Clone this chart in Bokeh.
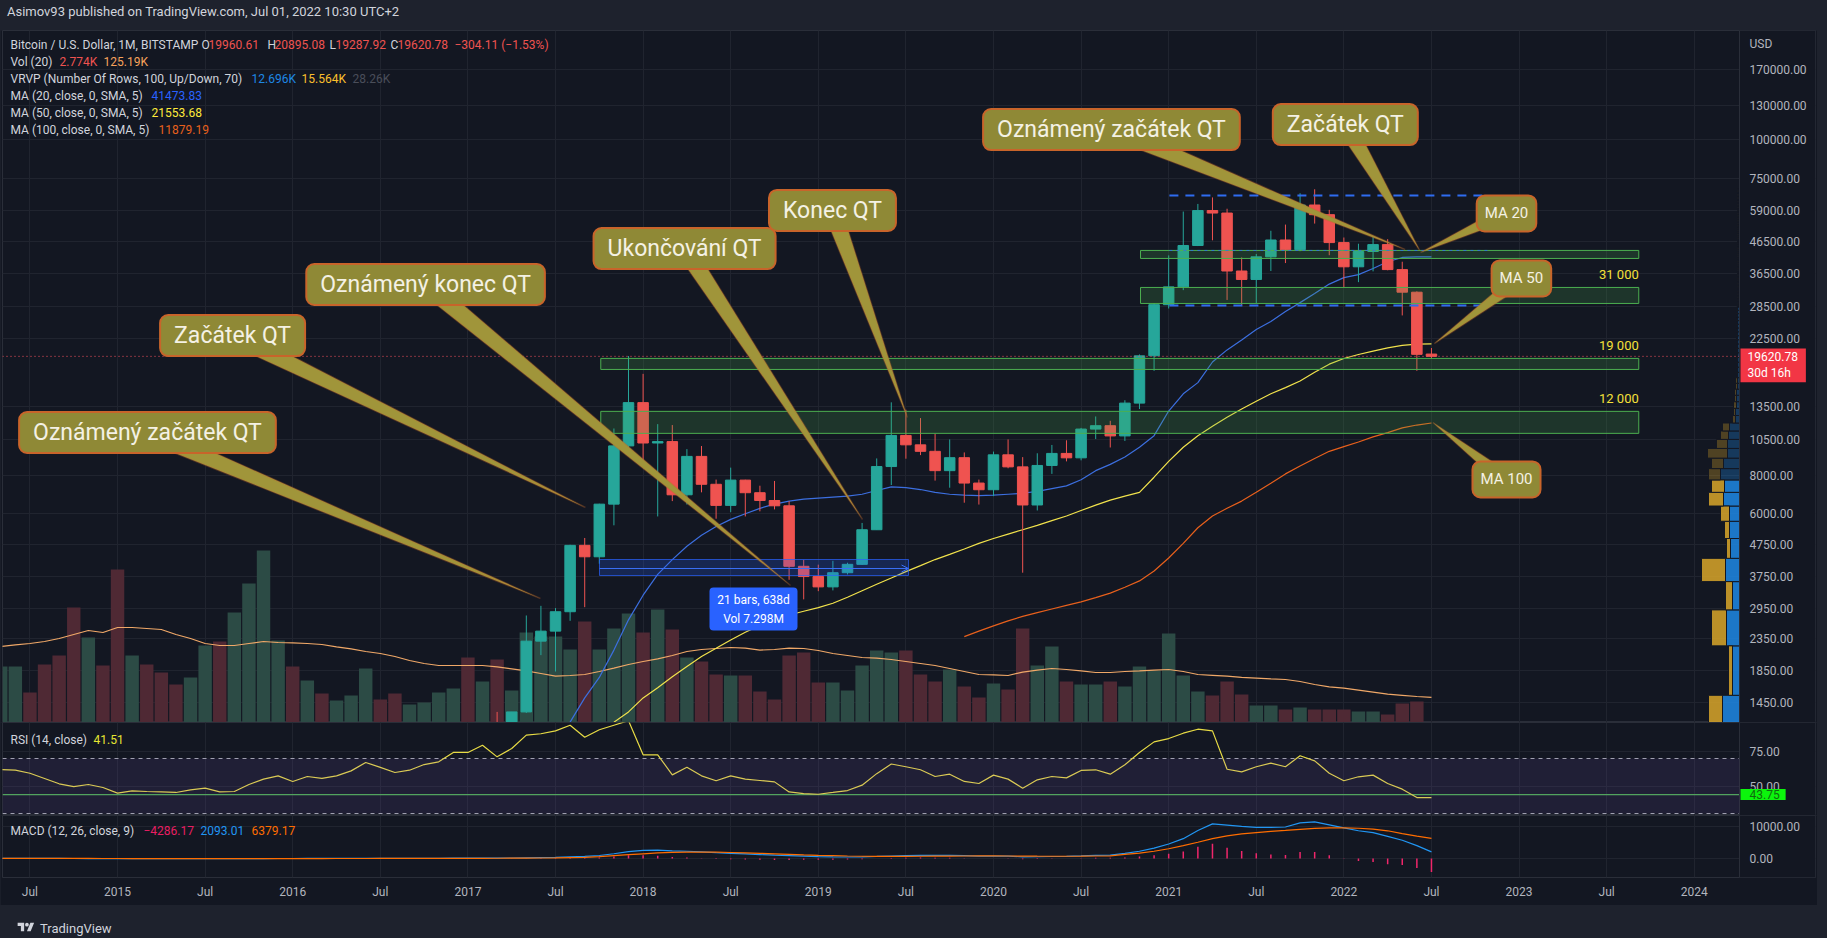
import math
from bokeh.plotting import figure
from bokeh.layouts import column
from bokeh.models import (Range1d, LinearScale, FixedTicker, NumeralTickFormatter, Grid,
                          Label, PolyAnnotation, BoxAnnotation, Span, Arrow, OpenHead, Div)
from bokeh.embed import file_html
from bokeh.resources import INLINE

# ======================= DATA =======================
first_bar = (2014, 5)   # BITSTAMP BTCUSD, 1M bars, May 2014 .. Jul 2022

opens = [445, 630, 640, 585, 480, 387, 338, 378,
         320, 217, 254, 244, 236, 230, 263, 284, 230, 236, 314, 377,
         430, 368, 437, 416, 448, 531, 673, 624, 575, 609, 700, 742,
         966, 963, 1190, 1080, 1350, 2300, 2480, 2870, 4730, 4340, 6450, 10000,
         13850, 10220, 10330, 6920, 9240, 7490, 6390, 7730, 7030, 6630, 6370, 4040,
         3740, 3460, 3850, 4100, 5320, 8560, 10820, 10080, 9600, 8300, 9150, 7560,
         7190, 9350, 8540, 6410, 8630, 9450, 9140, 11350, 11640, 10780, 13800, 19700,
         28950, 33100, 45200, 58800, 57700, 37300, 35000, 41500, 47100, 43800, 61300, 57000,
         46200, 38500, 43200, 45500, 37700, 31800, 19960.61]
highs = [630, 680, 660, 600, 500, 415, 460, 385,
         320, 265, 300, 262, 248, 268, 318, 284, 243, 331, 500, 467,
         462, 448, 440, 467, 549, 780, 703, 627, 630, 720, 755, 980,
         1150, 1200, 1350, 1350, 2790, 3000, 2950, 4750, 5000, 6470, 11400, 19666,
         17200, 11780, 11700, 9760, 9990, 7760, 8490, 7750, 7410, 7680, 6600, 4240,
         4090, 4210, 4150, 5600, 9100, 13880, 13130, 12330, 10950, 10500, 9520, 7760,
         9580, 10500, 9190, 9460, 10070, 10430, 11450, 12480, 12080, 14100, 19900, 29300,
         41950, 58350, 61800, 64900, 59600, 41300, 42400, 50500, 52900, 67000, 69000, 59100,
         48000, 45800, 48200, 47400, 40000, 32000, 20895.08]
lows = [440, 560, 570, 440, 370, 275, 312, 300,
        152, 212, 235, 214, 225, 218, 253, 198, 225, 235, 300, 350,
        350, 364, 394, 414, 443, 525, 608, 470, 590, 605, 675, 742,
        750, 915, 890, 1060, 1340, 2070, 1830, 2680, 2970, 4120, 5500, 9700,
        9000, 5880, 6600, 6430, 7050, 5780, 6070, 5880, 6110, 6200, 3650, 3150,
        3350, 3370, 3800, 4080, 5320, 7450, 9080, 9330, 7700, 7300, 6520, 6430,
        6850, 8450, 3850, 6150, 8100, 8900, 8970, 10530, 9880, 10380, 13200, 17600,
        28130, 32300, 45000, 47000, 30000, 28800, 29300, 37300, 39600, 43300, 53300, 42000,
        32900, 34300, 37200, 37500, 26700, 17600, 19287.92]
closes = [630, 640, 585, 480, 387, 338, 378, 320,
          217, 254, 244, 236, 230, 263, 284, 230, 236, 314, 377, 430,
          368, 437, 416, 448, 531, 673, 624, 575, 609, 700, 742, 963,
          963, 1190, 1080, 1350, 2300, 2480, 2870, 4730, 4340, 6450, 10000, 13850,
          10220, 10330, 6920, 9240, 7490, 6390, 7730, 7030, 6630, 6370, 4040, 3740,
          3460, 3850, 4100, 5320, 8560, 10820, 10080, 9600, 8300, 9150, 7560, 7190,
          9350, 8540, 6410, 8630, 9450, 9140, 11350, 11640, 10780, 13800, 19700, 28950,
          33100, 45200, 58800, 57700, 37300, 35000, 41500, 47100, 43800, 61300, 57000, 46200,
          38500, 43200, 45500, 37700, 31800, 19920, 19620.78]
volume_k = [280, 280, 150, 290, 335, 575, 425, 285,
            765, 335, 290, 250, 190, 225, 385, 405, 550, 695, 860, 410,
            280, 210, 145, 110, 135, 270, 115, 145, 90, 100, 150, 170,
            325, 205, 315, 160, 450, 430, 430, 365, 505, 365, 470, 545,
            450, 565, 465, 325, 305, 240, 235, 235, 155, 115, 335, 350,
            200, 200, 160, 285, 360, 350, 360, 240, 205, 265, 180, 125,
            195, 165, 470, 285, 380, 205, 190, 190, 205, 180, 280, 260,
            445, 235, 155, 135, 205, 140, 85, 85, 65, 75, 65, 65,
            65, 55, 55, 40, 95, 105, 2.774]
volume_ma_k = [380, 388, 395, 405, 420, 440, 460, 450,
               475, 475, 470, 465, 440, 420, 395, 385, 385, 395, 405, 400,
               398, 395, 390, 378, 368, 355, 345, 330, 310, 295, 285, 285,
               285, 285, 278, 268, 258, 245, 232, 235, 240, 255, 272, 290,
               305, 318, 335, 355, 365, 370, 375, 372, 362, 365, 372, 370,
               360, 345, 335, 325, 322, 315, 305, 295, 285, 270, 255, 240,
               238, 235, 252, 262, 270, 265, 258, 250, 250, 255, 258, 262,
               265, 255, 240, 236, 232, 226, 222, 218, 215, 205, 190, 178,
               172, 162, 152, 142, 136, 130, 125.19]

ma20_first = (2017, 8)
ma20 = [1250, 1500, 1750, 2150, 2700,
        3250, 3800, 4250, 4700, 5100, 5450, 5750, 6000, 6250, 6450, 6600, 6700,
        6750, 6800, 6850, 6950, 7150, 7350, 7300, 7200, 7050, 6950, 6900, 6880,
        6900, 6950, 7000, 7100, 7250, 7400, 7750, 8300, 8700, 9200, 9900, 10800,
        13000, 14800, 16100, 18800, 20600, 22200, 24000, 25500, 27500, 29400, 31500, 33800,
        35500, 36300, 38000, 40000, 41300, 41500, 41473.83]
ma50_first = (2017, 11)
ma50 = [1250, 1350,
        1500, 1620, 1760, 1900, 2050, 2180, 2320, 2460, 2590, 2700, 2800, 2880,
        2960, 3060, 3200, 3360, 3530, 3700, 3880, 4060, 4250, 4420, 4600, 4800,
        4980, 5150, 5320, 5500, 5700, 5900, 6150, 6400, 6650, 6850, 7050, 7900,
        8900, 9900, 10800, 11600, 12400, 13200, 14000, 14800, 15500, 16300, 17400, 18500,
        19300, 19900, 20400, 20900, 21300, 21500, 21553.68]
ma100_first = (2019, 11)
ma100 = [2380, 2480,
         2580, 2680, 2770, 2850, 2930, 3010, 3090, 3190, 3300, 3450, 3620, 3900,
         4300, 4800, 5400, 5900, 6250, 6600, 7050, 7550, 8100, 8600, 9100, 9600,
         9950, 10300, 10700, 11050, 11450, 11700, 11879.19]

rsi = [62.0, 61.5, 59.3, 55.5, 51.6, 49.6, 51.1, 48.9,
       44.8, 46.5, 46.0, 45.7, 45.3, 47.2, 48.4, 45.7, 46.0, 51.1, 55.0, 57.4,
       53.3, 56.9, 55.5, 57.4, 61.0, 67.1, 63.5, 59.8, 61.5, 65.6, 67.6, 74.4,
       74.4, 79.7, 71.2, 77.3, 87.0, 88.0, 90.1, 94.2, 85.5, 90.9, 94.2, 97.5,
       72.7, 72.7, 58.1, 63.7, 57.4, 53.8, 57.4, 55.0, 54.0, 53.0, 45.7, 44.5,
       44.0, 45.3, 46.7, 50.6, 59.0, 66.0, 64.0, 61.8, 56.9, 58.6, 53.3, 51.8,
       57.9, 55.0, 48.4, 54.5, 56.9, 55.9, 61.3, 61.8, 58.6, 65.4, 74.4, 82.1,
       84.5, 88.4, 91.3, 90.1, 62.2, 60.3, 64.0, 66.6, 64.0, 72.0, 68.3, 59.3,
       53.8, 56.7, 57.9, 51.8, 47.7, 41.6, 41.51]
macd = [30, 40, 40, 30, 15, -5, -15, -25,
        -45, -50, -52, -52, -50, -45, -40, -38, -36, -28, -15, -2,
        5, 12, 15, 20, 28, 45, 55, 58, 62, 70, 80, 100,
        115, 130, 140, 160, 230, 300, 380, 560, 680, 950, 1500, 2200,
        2550, 2650, 2450, 2300, 2100, 1850, 1650, 1450, 1250, 1050, 900, 750,
        600, 500, 480, 520, 650, 800, 900, 1000, 980, 980, 890, 780,
        800, 760, 520, 560, 640, 700, 820, 1000, 1100, 1600, 2300, 3300,
        4600, 6300, 8900, 11000, 10600, 10200, 9900, 9900, 10000, 11300, 11600, 10700,
        9700, 8800, 8200, 7000, 5800, 4100, 2093.01]
macd_signal = [35, 36, 37, 36, 32, 25, 17, 8,
               -5, -15, -23, -30, -35, -38, -40, -40, -40, -38, -34, -28,
               -20, -15, -10, -6, 0, 5, 10, 15, 20, 25, 32, 40,
               50, 65, 80, 95, 125, 165, 210, 280, 360, 600, 900, 1200,
               1500, 1800, 1950, 2020, 2040, 2000, 1900, 1800, 1650, 1500, 1340, 1150,
               1000, 900, 800, 720, 680, 670, 690, 720, 750, 780, 800, 810,
               810, 800, 760, 730, 720, 720, 740, 790, 860, 1300, 1700, 2300,
               3100, 4100, 5150, 6300, 7200, 7800, 8200, 8600, 8900, 9250, 9550, 9700,
               9750, 9600, 9300, 8800, 7900, 7100, 6379.17]
macd_hist = [-5, 4, 3, -6, -17, -30, -32, -33,
             -40, -35, -29, -22, -15, -7, 0, 2, 4, 10, 19, 26,
             25, 27, 25, 26, 28, 40, 45, 43, 42, 45, 48, 60,
             65, 65, 60, 65, 105, 135, 170, 280, 320, 350, 600, 1000,
             1050, 850, 500, 280, 60, -150, -250, -350, -400, -450, -440, -400,
             -400, -400, -320, -200, -30, 130, 210, 280, 230, 200, 90, -30,
             -10, -40, -240, -170, -80, -20, 80, 210, 240, 300, 600, 1000,
             1500, 2200, 3750, 4700, 3400, 2400, 1700, 1300, 1100, 2050, 2050, 1000,
             -50, -800, -1100, -1800, -2100, -3000, -4286.17]

# volume profile (VRVP), 100 rows
vp_first_price = 150
vp_row_size = 690
vp_up = [10, 17, 7, 13, 7, 14, 9, 10, 10, 16, 15, 19, 16, 12, 12, 11, 10,
         4, 4, 3, 3, 3, 2, 2,
         2, 2, 2, 2, 2, 2, 2, 2, 2, 2, 2, 2, 2, 2, 2, 2, 2,
         1, 1, 1, 1, 1, 1, 1, 1, 1, 1, 1, 1, 1, 1, 1, 1, 1, 1, 1, 1,
         1, 1, 1, 1, 1, 1, 1, 1, 1, 1, 1, 1, 1, 1, 1, 1, 1, 1, 1, 1,
         1, 1, 1, 1, 1, 1, 1, 1, 1, 1, 1, 1, 1, 1, 1, 1, 1, 1, 1]
vp_down = [8, 14, 4, 15, 7, 24, 4, 5, 9, 15, 13, 12, 12, 20, 11, 8, 7,
           3, 2, 3, 2, 2, 2, 2,
           1, 1, 1, 1, 1, 1, 1, 1, 1, 1, 1, 1, 1, 1, 1, 1, 1,
           1, 1, 1, 1, 1, 1, 1, 1, 1, 1, 1, 1, 1, 1, 1, 1, 1, 1, 1, 1,
           1, 1, 1, 1, 1, 1, 1, 1, 1, 1, 1, 1, 1, 1, 1, 1, 1, 1, 1, 1,
           1, 1, 1, 1, 1, 1, 1, 1, 1, 1, 1, 1, 1, 1, 1, 1, 1, 1, 1]
vp_value_area_rows = (1, 10)

tick_labels = ["Jul", "2015", "Jul", "2016", "Jul", "2017", "Jul", "2018", "Jul", "2019",
               "Jul", "2020", "Jul", "2021", "Jul", "2022", "Jul", "2023", "Jul", "2024"]
tick_dates = [(2014, 7), (2015, 1), (2015, 7), (2016, 1), (2016, 7), (2017, 1), (2017, 7),
              (2018, 1), (2018, 7), (2019, 1), (2019, 7), (2020, 1), (2020, 7), (2021, 1),
              (2021, 7), (2022, 1), (2022, 7), (2023, 1), (2023, 7), (2024, 1)]
price_ticks = [1450, 1850, 2350, 2950, 3750, 4750, 6000, 8000, 10500, 13500,
               22500, 28500, 36500, 46500, 59000, 75000, 100000, 130000, 170000]
rsi_ticks = [50, 75]
macd_ticks = [0, 10000]

# drawings on the chart
zone_bottom = [41000, 29220, 17780, 10990]
zone_top = [43550, 32960, 19320, 12970]
zone_left = [70.07, 70.07, 33.1, 33.1]
zone_right = [104.2, 104.2, 104.2, 104.2]
zone_text = ["", "31 000", "19 000", "12 000"]
dash_levels = [65860, 43550, 28770]
dash_from, dash_to = 72.05, 93.84

callouts = [  # text, box centre (month, price), tip (month, price), font px
    ("Oznámený začátek QT", (2.05, 11060), (28.97, 3171), 23),
    ("Začátek QT", (7.88, 22950), (32.05, 6289), 23),
    ("Oznámený konec QT", (21.1, 33700), (46.1, 3496), 23),
    ("Ukončování QT", (38.84, 44180), (51.03, 5746), 23),
    ("Konec QT", (48.97, 58830), (54.1, 12380), 23),
    ("Oznámený začátek QT", (68.08, 108200), (88.2, 43850), 23),
    ("Začátek QT", (84.1, 112300), (89.2, 43530), 23),
    ("MA 20", (95.14, 57520), (89.25, 42880), 15),
    ("MA 50", (96.16, 35260), (90.2, 21610), 15),
    ("MA 100", (95.14, 7766), (90.1, 11925), 15),
]

# ======================= LAYOUT / STYLE =======================
OUTER = "#1e222d"
BG = "#131722"
SEP = "#2a2e39"
GRID = "#20242f"
TXT = "#d1d4dc"
AX_TXT = "#b2b5be"
UP, DOWN = "#26a69a", "#ef5350"
VOL_UP, VOL_DOWN = "#2c4b45", "#4f2934"
FONT = "Roboto"
LEG = "12px"

W = 1817
PANE_W = 1737            # plotting area left of the price scale
FRAME_W = 1813           # frame incl. the price-scale strip
FRAME_LEFT = 10          # page x of the frame's left edge
MAIN_TOP, MAIN_H = 28, 692
RSI_TOP, RSI_H = 720, 93
MACD_TOP, MACD_H = 813, 62
XAXIS_H = 28
HEADER_H, FOOTER_H = 20, 27

X0, X_SEP = -7.88, 111.1
PPM = PANE_W / (X_SEP - X0)
X1 = X0 + FRAME_W / PPM
Y0, Y1 = 1246.7, 228000
VOL_TOP = 3460
R0, R1 = 28.55, 96.18
M0, M1 = -6030, 13650

LY0, LY1 = math.log10(Y0), math.log10(Y1)
PPD = MAIN_H / (LY1 - LY0)


def midx(ym):
    return (ym[0] - 2015) * 12 + (ym[1] - 1)


def px_to_x(px):
    return X0 + (px - FRAME_LEFT) / PPM


def x_to_px(x):
    return FRAME_LEFT + (x - X0) * PPM


def py_to_price(py):
    return 10 ** (LY1 - (py - MAIN_TOP) / PPD)


def price_to_py(p):
    return MAIN_TOP + (LY1 - math.log10(p)) * PPD


def py_to_rsi(py):
    return R1 - (py - RSI_TOP) * (R1 - R0) / RSI_H


def py_to_macd(py):
    return M1 - (py - MACD_TOP) * (M1 - M0) / MACD_H


n = len(closes)
for arr in (opens, highs, lows, volume_k, volume_ma_k, rsi, macd, macd_signal, macd_hist):
    assert len(arr) == n
x = [midx(first_bar) + i for i in range(n)]
up = [c >= o for o, c in zip(opens, closes)]
tick_pos = [midx(d) for d in tick_dates]


def style_axis(ax):
    ax.axis_line_color = None
    ax.major_tick_line_color = None
    ax.minor_tick_line_color = None
    ax.major_tick_out = 0
    ax.major_tick_in = 0
    ax.major_label_text_color = AX_TXT
    ax.major_label_text_font = FONT
    ax.major_label_text_font_size = "12px"


xr = Range1d(X0, X1)


def base_fig(y_range, frame_h, yticks, log=False, bottom=0):
    kw = dict(x_range=xr, y_range=y_range, frame_width=FRAME_W, frame_height=frame_h,
              y_axis_location="right", x_axis_location=("below" if bottom else None),
              min_border_left=2, min_border_right=2, min_border_top=0,
              min_border_bottom=bottom, output_backend="svg", toolbar_location=None,
              background_fill_color=BG, border_fill_color=BG, outline_line_color=SEP)
    if log:
        kw["y_axis_type"] = "log"
    f = figure(**kw)
    # vertical grid lines at the time ticks
    if len(f.xgrid):
        for g in f.xgrid:
            g.ticker = FixedTicker(ticks=tick_pos)
            g.grid_line_color = GRID
    else:
        f.add_layout(Grid(dimension=0, ticker=FixedTicker(ticks=tick_pos), grid_line_color=GRID))
    for g in f.ygrid:
        g.ticker = FixedTicker(ticks=yticks)
        g.grid_line_color = GRID
    ax = f.yaxis[0]
    style_axis(ax)
    ax.ticker = FixedTicker(ticks=yticks)
    ax.formatter = NumeralTickFormatter(format="0.00")
    ax.major_label_standoff = 10
    ax.fixed_location = X_SEP
    # price-scale strip: hide grid, draw separator
    f.add_layout(BoxAnnotation(left=X_SEP, fill_color=BG, fill_alpha=1, line_alpha=0, level="underlay"))
    f.add_layout(Span(location=X_SEP, dimension="height", line_color=SEP, line_width=1))
    return f


def text(fig, px, py, s, color, size=LEG, yconv=py_to_price, align="left", style="normal"):
    fig.add_layout(Label(x=px_to_x(px), y=yconv(py), text=s, text_color=color, text_font=FONT,
                         text_font_size=size, text_align=align, text_baseline="middle",
                         text_font_style=style))


# ======================= MAIN PANE =======================
main = base_fig(Range1d(Y0, Y1), MAIN_H, price_ticks, log=True)
main.extra_y_ranges = {"vol": Range1d(0, VOL_TOP)}
main.extra_y_scales = {"vol": LinearScale()}
main.extra_x_ranges = {"vp": Range1d(-PANE_W, FRAME_W - PANE_W)}
main.extra_x_scales = {"vp": LinearScale()}

# volume
main.vbar(x=x, width=0.92, top=volume_k, bottom=0, y_range_name="vol",
          fill_color=[VOL_UP if u else VOL_DOWN for u in up], line_color=None)
main.line(x=x, y=volume_ma_k, y_range_name="vol", line_color="#f0a868", line_width=1.2)

# volume profile
vp_bottom = [vp_first_price + vp_row_size * k for k in range(len(vp_up))]
vp_top = [b + vp_row_size for b in vp_bottom]
lo, hi = vp_value_area_rows
in_va = [lo <= k <= hi for k in range(len(vp_up))]
main.quad(left=[-u for u in vp_up], right=[0] * len(vp_up), bottom=vp_bottom, top=vp_top,
          x_range_name="vp", fill_color="#1e88e5", fill_alpha=[0.85 if v else 0.3 for v in in_va],
          line_color=BG, line_width=1)
main.quad(left=[-(u + d) for u, d in zip(vp_up, vp_down)], right=[-u for u in vp_up],
          bottom=vp_bottom, top=vp_top, x_range_name="vp", fill_color="#d9a629",
          fill_alpha=[0.85 if v else 0.3 for v in in_va], line_color=BG, line_width=1)

# moving averages
main.line(x=[midx(ma100_first) + i for i in range(len(ma100))], y=ma100, line_color="#e8601c", line_width=1.2)
main.line(x=[midx(ma50_first) + i for i in range(len(ma50))], y=ma50, line_color="#f2e34c", line_width=1.2)
main.line(x=[midx(ma20_first) + i for i in range(len(ma20))], y=ma20, line_color="#3c6fe0", line_width=1.2)

# candles
ccol = [UP if u else DOWN for u in up]
main.segment(x0=x, y0=lows, x1=x, y1=highs, line_color=ccol, line_width=1)
main.vbar(x=x, width=0.72, top=[max(o, c) for o, c in zip(opens, closes)],
          bottom=[min(o, c) for o, c in zip(opens, closes)], fill_color=ccol, line_color=ccol)

# zones
main.quad(left=zone_left, right=zone_right, bottom=zone_bottom, top=zone_top,
          fill_color="#4caf50", fill_alpha=0.2, line_color="#4caf50", line_width=1)
for zl, zr, zt, zs in zip(zone_left, zone_right, zone_top, zone_text):
    if zs:
        main.add_layout(Label(x=zr, y=zt * 10 ** (5 / PPD), text=zs, text_color="#f5e03a",
                              text_font=FONT, text_font_size="13px", text_align="right",
                              text_baseline="bottom"))

# dashed horizontal lines
for i, lv in enumerate(dash_levels):
    main.segment(x0=[dash_from], x1=[dash_to], y0=[lv], y1=[lv], line_color="#2f6cf0",
                 line_width=(1 if i == 1 else 2), line_dash=("3 4" if i == 1 else "9 7"),
                 line_alpha=(0.8 if i == 1 else 1))

# last price line
main.segment(x0=[X0], x1=[X_SEP], y0=[closes[-1]], y1=[closes[-1]], line_color="#f7525f",
             line_dash="1 3", line_width=1)

# measurement tool
meas_left, meas_right = px_to_x(607), px_to_x(916)
main.add_layout(BoxAnnotation(left=meas_left, right=meas_right, bottom=py_to_price(573),
                              top=py_to_price(557), fill_color="#2962ff", fill_alpha=0.22,
                              line_color="#2962ff", line_alpha=0.7, line_width=1))
main.add_layout(Arrow(x_start=meas_left, y_start=py_to_price(566), x_end=meas_right,
                      y_end=py_to_price(566), line_color="#3a6ff5", line_width=1,
                      end=OpenHead(size=7, line_color="#3a6ff5", line_width=1)))
main.add_layout(BoxAnnotation(left=px_to_x(717), right=px_to_x(805), bottom=py_to_price(628),
                              top=py_to_price(585), fill_color="#2962ff", fill_alpha=1,
                              line_alpha=0, border_radius=4))
text(main, 761, 597, "21 bars, 638d", "#ffffff", "12px", align="center")
text(main, 761, 616, "Vol 7.298M", "#ffffff", "12px", align="center")


# callouts
def wedge(c, t, half):
    cx, cy = x_to_px(c[0]), price_to_py(c[1])
    tx, ty = x_to_px(t[0]), price_to_py(t[1])
    dx, dy = tx - cx, ty - cy
    L = math.hypot(dx, dy)
    nx, ny = -dy / L * half, dx / L * half
    pts = [(cx + nx, cy + ny), (tx, ty), (cx - nx, cy - ny)]
    return [px_to_x(a) for a, b in pts], [py_to_price(b) for a, b in pts]


CALL_FILL, CALL_EDGE = "#8f8936", "#c8642a"
for s, c, t, fs in callouts:
    xs, ys = wedge(c, t, 9 if fs > 18 else 7)
    main.add_layout(PolyAnnotation(xs=xs, ys=ys, fill_color="#a0953a", fill_alpha=1,
                                   line_color=CALL_EDGE, line_width=1.5))
for s, c, t, fs in callouts:
    big = fs > 18
    pad = dict(left=14, right=14, top=7, bottom=7) if big else dict(left=8, right=8, top=9, bottom=9)
    main.add_layout(Label(x=c[0], y=c[1], text=s, text_align="center", text_baseline="middle",
                          text_font=FONT, text_font_size=f"{fs}px", text_color="#f4f1e4",
                          background_fill_color=CALL_FILL, background_fill_alpha=1,
                          border_line_color=CALL_EDGE, border_line_width=2,
                          padding=pad, border_radius=8))

# legends (top-left)
rows = [
    (42, [(18, "Bitcoin / U.S. Dollar, 1M, BITSTAMP", TXT), (209, "O", TXT), (216, "19960.61", DOWN),
          (275, "H", TXT), (282, "20895.08", DOWN), (337, "L", TXT), (343, "19287.92", DOWN),
          (398, "C", TXT), (405, "19620.78", DOWN), (462, "\u2212304.11 (\u22121.53%)", DOWN)]),
    (59, [(18, "Vol (20)", TXT), (67, "2.774K", DOWN), (111, "125.19K", "#f7a35c")]),
    (76, [(18, "VRVP (Number Of Rows, 100, Up/Down, 70)", TXT), (259, "12.696K", "#1e88e5"),
          (309, "15.564K", "#fbc02d"), (360, "28.26K", "#4a4e5a")]),
    (93, [(18, "MA (20, close, 0, SMA, 5)", TXT), (159, "41473.83", "#2962ff")]),
    (110, [(18, "MA (50, close, 0, SMA, 5)", TXT), (159, "21553.68", "#ffeb3b")]),
    (127, [(18, "MA (100, close, 0, SMA, 5)", TXT), (166, "11879.19", "#e8601c")]),
]
for py, segs in rows:
    for px, s, col in segs:
        text(main, px, py, s, col)

# price scale extras
text(main, 1757, 41, "USD", AX_TXT, "12px")
main.add_layout(Label(x=px_to_x(1748), y=py_to_price(346), text="19620.78\n30d 16h",
                      text_color="#ffffff", text_font=FONT, text_font_size="12px",
                      text_align="left", text_baseline="top", background_fill_color="#f23645",
                      padding=dict(left=7, right=8, top=1, bottom=2)))

# ======================= RSI PANE =======================
rp = base_fig(Range1d(R0, R1), RSI_H, rsi_ticks)
rp.add_layout(BoxAnnotation(bottom=30, top=70, right=X_SEP, fill_color="#7e57c2", fill_alpha=0.13, line_alpha=0))
for lv in (70, 30):
    rp.segment(x0=[X0], x1=[X_SEP], y0=[lv], y1=[lv], line_color="#a3a6af", line_dash="4 4", line_width=1)
rp.segment(x0=[X0], x1=[X_SEP], y0=[43.75], y1=[43.75], line_color="#4caf50", line_width=1.2)
rp.line(x=x, y=rsi, line_color="#e8dc45", line_width=1.2)
text(rp, 18, 737, "RSI (14, close)", TXT, yconv=py_to_rsi)
text(rp, 101, 737, "41.51", "#e6e632", yconv=py_to_rsi)
rp.add_layout(Label(x=px_to_x(1748), y=43.75, text="43.75", text_color="#0f6a0f", text_font=FONT,
                    text_font_size="12px", text_align="left", text_baseline="middle",
                    background_fill_color="#0cf50c", padding=dict(left=9, right=6, top=1, bottom=1)))

# ======================= MACD PANE =======================
mp = base_fig(Range1d(M0, M1), MACD_H, macd_ticks, bottom=XAXIS_H)
mp.segment(x0=x, y0=[0] * n, x1=x, y1=macd_hist, line_color="#f0266b", line_width=1.5)
mp.line(x=x, y=macd, line_color="#2196f3", line_width=1.2)
mp.line(x=x, y=macd_signal, line_color="#ff6d00", line_width=1.2)
xa = mp.xaxis[0]
style_axis(xa)
xa.ticker = FixedTicker(ticks=tick_pos)
xa.major_label_overrides = {p: l for p, l in zip(tick_pos, tick_labels)}
xa.major_label_standoff = 7
text(mp, 18, 828, "MACD (12, 26, close, 9)", TXT, yconv=py_to_macd)
text(mp, 151, 828, "\u22124286.17", "#e91e63", yconv=py_to_macd)
text(mp, 208, 828, "2093.01", "#2196f3", yconv=py_to_macd)
text(mp, 259, 828, "6379.17", "#ff6d00", yconv=py_to_macd)

# ======================= HEADER / FOOTER =======================
header = Div(text="Asimov93 published on TradingView.com, Jul 01, 2022 10:30 UTC+2",
             width=W, height=HEADER_H,
             styles={"background-color": OUTER, "color": TXT, "font-family": FONT,
                     "font-size": "13px", "line-height": "14px", "padding-left": "2px"})
logo = ('<svg width="22" height="13" viewBox="0 0 36 28" style="vertical-align:-1px">'
        '<path d="M14 22H7V11H0V4h14v18z M28 22h-8l7.5-18h8z" fill="#d1d4dc"/>'
        '<circle cx="20" cy="8" r="4" fill="#d1d4dc"/></svg>')
footer = Div(text=logo + '<span style="margin-left:3px">TradingView</span>', width=W, height=FOOTER_H,
             styles={"background-color": OUTER, "color": TXT, "font-family": FONT,
                     "font-size": "13px", "line-height": "14px", "padding-top": "11px",
                     "padding-left": "10px"})

layout = column(header, main, rp, mp, footer, spacing=0, styles={"background-color": OUTER})
html = file_html(layout, INLINE)
html = html.replace("<body>", '<body style="background-color:%s;">' % OUTER, 1)
open("out.html", "w").write(html)
